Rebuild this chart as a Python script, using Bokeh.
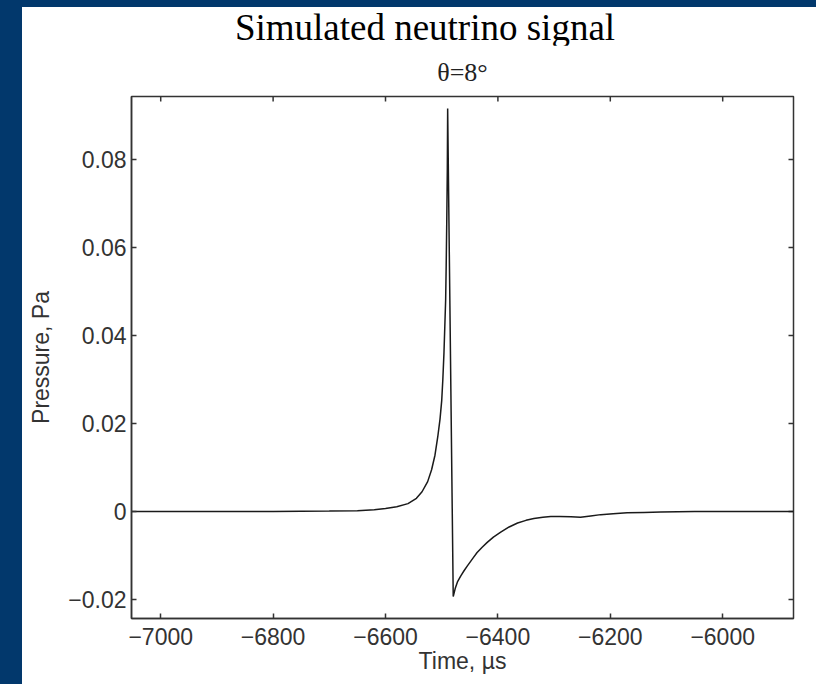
from bokeh.plotting import figure
from bokeh.models import (LinearAxis, FixedTicker, Range1d, Title, Column, Row, Div)
from bokeh.embed import file_html
from bokeh.resources import INLINE

# ---- data ----
time_us = [-7052, -6900, -6800, -6700, -6650, -6620, -6600, -6580, -6560,
           -6545, -6535, -6525, -6518, -6512, -6507, -6503, -6500, -6498,
           -6496, -6494.5, -6493, -6492, -6491, -6490, -6489.4,
           -6479.5, -6476, -6472, -6466, -6460, -6454, -6445, -6437, -6428,
           -6419, -6408, -6395, -6380, -6365, -6350, -6336, -6320, -6306,
           -6290, -6270, -6253, -6235, -6217, -6195, -6170, -6140, -6110,
           -6050, -5981, -5874]
pressure_pa = [0.0, 0.0, 0.0, 0.0001, 0.0002, 0.0004, 0.0007, 0.0011, 0.0018,
               0.0030, 0.0045, 0.0068, 0.0095, 0.0128, 0.0170, 0.0210, 0.0252, 0.0300,
               0.0360, 0.0420, 0.0480, 0.0560, 0.0660, 0.0780, 0.0916,
               -0.0193, -0.0175, -0.0160, -0.0146, -0.0134, -0.0123, -0.0107, -0.0093, -0.0081,
               -0.0070, -0.0058, -0.0047, -0.0035, -0.0026, -0.0020, -0.0016, -0.0013, -0.0011,
               -0.0011, -0.0012, -0.0013, -0.0010, -0.0007, -0.0005, -0.0003, -0.0002, -0.0001,
               0.0, 0.0, 0.0]

x_ticks = [-7000, -6800, -6600, -6400, -6200, -6000]
x_tick_labels = ["\u22127000", "\u22126800", "\u22126600", "\u22126400", "\u22126200", "\u22126000"]
y_ticks = [-0.02, 0.0, 0.02, 0.04, 0.06, 0.08]
y_tick_labels = ["\u22120.02", "0", "0.02", "0.04", "0.06", "0.08"]

title_text = "Simulated neutrino signal"
subtitle_text = "\u03b8=8\u00b0"
x_label = "Time, \u00b5s"
y_label = "Pressure, Pa"

X_MIN, X_MAX = -7052, -5874
Y_MIN, Y_MAX = -0.0243, 0.0943

BLUE = "#02386c"
AXIS_COL = "#333333"
SANS = "Liberation Sans"
SERIF = "Liberation Serif"

W = 794
TITLE_H = 38
H = 677 - TITLE_H
ML, MR, MT, MB = 109, 23, 89 - TITLE_H, 66

p = figure(width=W, height=H, output_backend="svg", toolbar_location=None,
           x_range=Range1d(X_MIN, X_MAX), y_range=Range1d(Y_MIN, Y_MAX),
           x_axis_location=None, y_axis_location=None,
           min_border_left=ML, min_border_right=MR, min_border_top=MT,
           min_border_bottom=MB)
p.background_fill_color = "white"
p.border_fill_color = "white"
p.grid.visible = False
p.outline_line_color = AXIS_COL
p.outline_line_width = 1.5

def style_axis(ax, ticks, labels):
    ax.ticker = FixedTicker(ticks=ticks)
    ax.minor_tick_line_color = None
    ax.major_tick_in = 5
    ax.major_tick_out = 0
    ax.major_tick_line_color = AXIS_COL
    ax.major_tick_line_width = 1.5
    ax.axis_line_color = AXIS_COL
    ax.axis_line_width = 1.5
    ax.major_label_overrides = {t: s for t, s in zip(ticks, labels)}
    ax.major_label_text_font = SANS
    ax.major_label_text_font_size = "23px"
    ax.major_label_text_color = "#333333"
    ax.axis_label_text_font = SANS
    ax.axis_label_text_font_size = "23px"
    ax.axis_label_text_font_style = "normal"
    ax.axis_label_text_color = "#333333"

xb = LinearAxis(axis_label=x_label)
style_axis(xb, x_ticks, x_tick_labels)
xb.major_label_standoff = 9
xb.axis_label_standoff = 0
p.add_layout(xb, "below")

yl = LinearAxis(axis_label=y_label)
style_axis(yl, y_ticks, y_tick_labels)
yl.major_label_standoff = 5
yl.axis_label_standoff = 11
p.add_layout(yl, "left")

# mirrored inward ticks on the top and right edges of the box
tick_dx = 5 * (X_MAX - X_MIN) / (W - ML - MR)
tick_dy = 5 * (Y_MAX - Y_MIN) / (H - MT - MB)
p.segment(x0=x_ticks, x1=x_ticks, y0=[Y_MAX] * len(x_ticks),
          y1=[Y_MAX - tick_dy] * len(x_ticks), line_color=AXIS_COL, line_width=1.5)
p.segment(x0=[X_MAX] * len(y_ticks), x1=[X_MAX - tick_dx] * len(y_ticks),
          y0=y_ticks, y1=y_ticks, line_color=AXIS_COL, line_width=1.5)

p.line(time_us, pressure_pa, line_color="#1a1a1a", line_width=1.5)

# subtitle just above the frame
p.add_layout(Title(text=subtitle_text, align="center", text_font=SERIF,
                   text_font_size="26px", text_font_style="normal",
                   text_color="#222222", standoff=20), "above")

# main title as a text block above the figure
title_div = Div(
    text=('<div style="margin-left:12px;padding-top:5px;width:782px;text-align:center;'
          'white-space:nowrap;font-family:\'Liberation Serif\';font-size:37px;'
          'line-height:31px;color:#000;">%s</div>') % title_text,
    width=W, height=TITLE_H, margin=0,
    styles={"background-color": "white", "overflow": "visible"})

left_strip = Div(text="", width=22, height=684, margin=0,
                 styles={"background-color": BLUE})
top_strip = Div(text="", width=W, height=7, margin=0,
                styles={"background-color": BLUE})
p.margin = 0
root = Row(children=[left_strip,
                     Column(children=[top_strip, title_div, p], margin=0,
                            styles={"background-color": "white"})],
           margin=0, styles={"background-color": BLUE})

open("out.html", "w").write(file_html(root, INLINE))
